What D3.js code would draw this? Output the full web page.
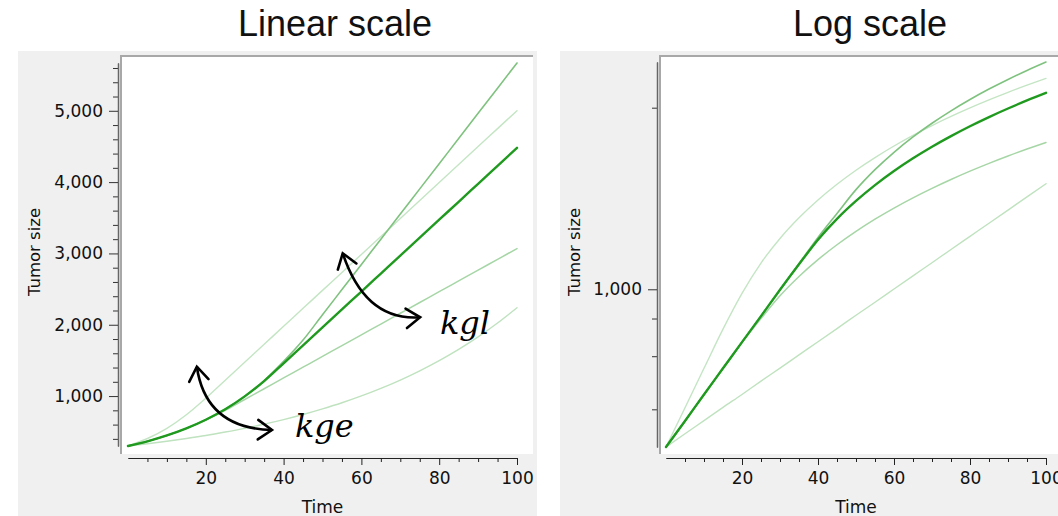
<!DOCTYPE html>
<html>
<head>
<meta charset="utf-8">
<script src="https://cdn.jsdelivr.net/npm/d3@7"></script>
<style>
  html, body { margin: 0; padding: 0; background: #ffffff; }
  svg { display: block; }
</style>
</head>
<body>
<svg id="chart" width="1058" height="516"></svg>
<script>
// Simulated tumor size over time: reference parameters and four variations
// (exponential growth rate kge and linear growth rate kgl raised / lowered).
const time      = [0, 5, 10, 15, 20, 25, 30, 35, 40, 45, 50, 55, 60, 65, 70, 75, 80, 85, 90, 95, 100];
const sizeRef     = [300, 366, 448, 547, 668, 815, 996, 1210, 1460, 1712, 1963, 2215, 2466, 2718, 2970, 3221, 3473, 3724, 3976, 4228, 4480];
const sizeKglHigh = [300, 366, 448, 547, 668, 815, 996, 1217, 1486, 1785, 2140, 2493, 2846, 3199, 3552, 3905, 4258, 4611, 4964, 5317, 5670];
const sizeKgeHigh = [300, 405, 547, 738, 970, 1222, 1474, 1726, 1978, 2230, 2482, 2734, 2986, 3238, 3490, 3742, 3994, 4246, 4498, 4750, 5002];
const sizeKglLow  = [300, 366, 448, 547, 666, 800, 952, 1103, 1254, 1405, 1556, 1708, 1859, 2010, 2161, 2312, 2464, 2615, 2766, 2917, 3068];
const sizeKgeLow  = [300, 332, 367, 406, 448, 496, 548, 606, 670, 741, 820, 906, 1002, 1108, 1225, 1355, 1498, 1656, 1831, 2025, 2239];

// Tick values
const xMajorTicks = [20, 40, 60, 80, 100];
const xMinorTicks = [5, 10, 15, 25, 30, 35, 45, 50, 55, 65, 70, 75, 85, 90, 95];
const linMajorTicks = [1000, 2000, 3000, 4000, 5000];
const linMinorTicks = [400, 600, 800, 1200, 1400, 1600, 1800, 2200, 2400, 2600, 2800,
                       3200, 3400, 3600, 3800, 4200, 4400, 4600, 4800, 5200, 5400, 5600];
const logMajorTicks = [1000];
const logMinorTicks = [400, 600, 800, 4000];

// Annotation anchors (time, size): [start tip, control, end tip]
const kgeArrow = [[17.7, 1412], [20.0, 548], [37.0, 524]];
const kglArrow = [[55.2, 3002], [61.0, 2048], [75.1, 2105]];
const kgeLabelAt = [42.9, 426];
const kglLabelAt = [80.2, 1870];

const series = [
  { name: "kge-low",  values: sizeKgeLow,  color: "#bfe2bf", width: 1.4 },
  { name: "kge-high", values: sizeKgeHigh, color: "#c4e5c4", width: 1.4 },
  { name: "kgl-low",  values: sizeKglLow,  color: "#a6d6a6", width: 1.5 },
  { name: "kgl-high", values: sizeKglHigh, color: "#7fc27f", width: 1.6 },
  { name: "ref",      values: sizeRef,     color: "#1f9a1f", width: 2.4 }
];

const allValues = series.flatMap(s => s.values);
const yExtent = d3.extent(allValues);

const svg = d3.select("#chart");
const fontSans = "'DejaVu Sans', Verdana, sans-serif";
const fontTitle = "'Liberation Sans', Arial, sans-serif";

const fmt = d3.format(",");

function drawPanel(cfg) {
  const g = svg.append("g");
  // panel background and plotting frame
  g.append("rect").attr("x", cfg.bg[0]).attr("y", cfg.bg[1])
    .attr("width", cfg.bg[2]).attr("height", cfg.bg[3]).attr("fill", "#f0f0f0");
  g.append("rect").attr("x", cfg.frame[0]).attr("y", cfg.frame[1])
    .attr("width", cfg.frame[2]).attr("height", cfg.frame[3]).attr("fill", "#ffffff");
  g.append("path")
    .attr("d", `M${cfg.frame[0]},${cfg.frame[1] + cfg.frame[3]}V${cfg.frame[1]}H${cfg.frame[0] + cfg.frame[2]}`)
    .attr("fill", "none").attr("stroke", "#a8a8a8").attr("stroke-width", 2);

  const x = cfg.x, y = cfg.y;

  // curves
  const line = d3.line()
    .x((d, i) => x(time[i]))
    .y(d => y(d))
    .curve(d3.curveMonotoneX);
  g.append("g").selectAll("path").data(series).join("path")
    .attr("d", s => line(s.values))
    .attr("fill", "none")
    .attr("stroke", s => s.color)
    .attr("stroke-width", s => s.width)
    .attr("stroke-linejoin", "round")
    .attr("stroke-linecap", "round");

  // x axis
  const xAxisY = cfg.xAxisY;
  const gxMinor = g.append("g").attr("transform", `translate(0,${xAxisY})`)
    .call(d3.axisBottom(x).tickValues(xMinorTicks).tickSize(4).tickSizeOuter(0).tickFormat(""));
  const gx = g.append("g").attr("transform", `translate(0,${xAxisY})`)
    .call(d3.axisBottom(x).tickValues(xMajorTicks).tickSize(7).tickSizeOuter(0).tickPadding(7));
  [gxMinor, gx].forEach(a => a.attr("color", "#222"));
  gx.selectAll("text").attr("font-family", fontSans).attr("font-size", 17).attr("fill", "#111");

  // y axis
  const gyMinor = g.append("g").attr("transform", `translate(${cfg.yAxisX},0)`)
    .call(d3.axisLeft(y).tickValues(cfg.yMinor).tickSize(5).tickSizeOuter(0).tickFormat(""));
  const gy = g.append("g").attr("transform", `translate(${cfg.yAxisX},0)`)
    .call(d3.axisLeft(y).tickValues(cfg.yMajor).tickSize(9).tickSizeOuter(0).tickPadding(6).tickFormat(fmt));
  [gyMinor, gy].forEach(a => a.attr("color", "#333"));
  gy.select(".domain").attr("stroke", "#666").attr("stroke-width", 1.5);
  gy.selectAll("text").attr("font-family", fontSans).attr("font-size", 17).attr("fill", "#111");

  // axis titles
  g.append("text")
    .attr("x", (x.range()[0] + x.range()[1]) / 2).attr("y", 513)
    .attr("text-anchor", "middle")
    .attr("font-family", fontSans).attr("font-size", 17).attr("fill", "#111")
    .text("Time");
  g.append("text")
    .attr("transform", `translate(${cfg.yTitleX},252) rotate(-90)`)
    .attr("text-anchor", "middle").attr("dy", "0.36em")
    .attr("font-family", fontSans).attr("font-size", 16.5).attr("fill", "#111")
    .text("Tumor size");

  // panel title
  g.append("text")
    .attr("x", cfg.titleX).attr("y", 36)
    .attr("text-anchor", "middle")
    .attr("font-family", fontTitle).attr("font-size", 36).attr("fill", "#111")
    .text(cfg.title);
  return g;
}

// Left: linear scale
const xLin = d3.scaleLinear().domain([0, 100]).range([128, 517]);
const yLin = d3.scaleLinear().domain(yExtent).range([446, 63]);
drawPanel({
  bg: [18, 51, 519, 465], frame: [121, 56, 412, 398],
  x: xLin, y: yLin, xAxisY: 458, yAxisX: 118, yTitleX: 34,
  yMajor: linMajorTicks, yMinor: linMinorTicks,
  title: "Linear scale", titleX: 335
});

// Right: log scale
const xLog = d3.scaleLinear().domain([0, 100]).range([666, 1046]);
const yLog = d3.scaleLog().domain(yExtent).range([447, 62]);
drawPanel({
  bg: [560, 51, 498, 465], frame: [660, 56, 398, 398],
  x: xLog, y: yLog, xAxisY: 458, yAxisX: 657, yTitleX: 574,
  yMajor: logMajorTicks, yMinor: logMinorTicks,
  title: "Log scale", titleX: 870
});

// Double-headed curved arrows with open chevron heads
function curvedArrow(g, x, y, pts) {
  const P = pts.map(p => [x(p[0]), y(p[1])]);
  const [P0, C, P2] = P;
  g.append("path")
    .attr("d", `M${P0[0]},${P0[1]}Q${C[0]},${C[1]} ${P2[0]},${P2[1]}`)
    .attr("fill", "none").attr("stroke", "#000").attr("stroke-width", 2.6);
  const head = (tip, from) => {
    let dx = from[0] - tip[0], dy = from[1] - tip[1];
    const len = Math.hypot(dx, dy); dx /= len; dy /= len;
    const L = 17, a = 35 * Math.PI / 180;
    const rot = s => [tip[0] + L * (dx * Math.cos(s * a) - dy * Math.sin(s * a)),
                      tip[1] + L * (dx * Math.sin(s * a) + dy * Math.cos(s * a))];
    const l1 = rot(1), l2 = rot(-1);
    g.append("path")
      .attr("d", `M${l1[0]},${l1[1]}L${tip[0]},${tip[1]}L${l2[0]},${l2[1]}`)
      .attr("fill", "none").attr("stroke", "#000").attr("stroke-width", 2.6)
      .attr("stroke-linejoin", "miter").attr("stroke-linecap", "round");
  };
  head(P0, C);
  head(P2, C);
}

const ann = svg.append("g");
curvedArrow(ann, xLin, yLin, kgeArrow);
curvedArrow(ann, xLin, yLin, kglArrow);

const mathFont = "'DejaVu Serif', 'Liberation Serif', serif";
ann.append("text")
  .attr("x", xLin(kgeLabelAt[0])).attr("y", yLin(kgeLabelAt[1]))
  .attr("font-family", mathFont).attr("font-style", "italic")
  .attr("font-size", 32).attr("fill", "#000")
  .text("kge");
ann.append("text")
  .attr("x", xLin(kglLabelAt[0])).attr("y", yLin(kglLabelAt[1]))
  .attr("font-family", mathFont).attr("font-style", "italic")
  .attr("font-size", 32).attr("fill", "#000")
  .text("kgl");
</script>
</body>
</html>
